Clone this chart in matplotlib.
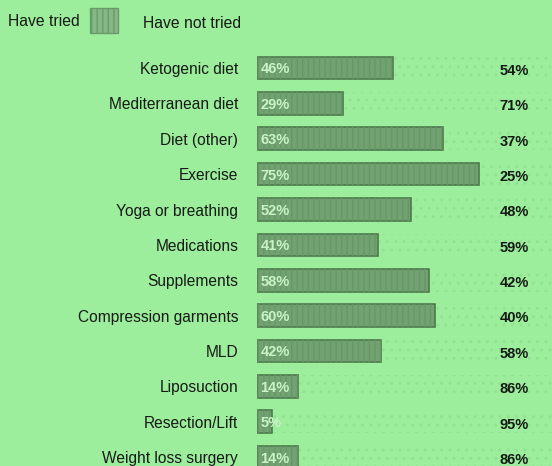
import matplotlib
matplotlib.use("Agg")
import matplotlib.pyplot as plt
from matplotlib.patches import Rectangle
import numpy as np

categories = ["Ketogenic diet", "Mediterranean diet", "Diet (other)", "Exercise",
              "Yoga or breathing", "Medications", "Supplements", "Compression garments",
              "MLD", "Liposuction", "Resection/Lift", "Weight loss surgery"]
tried = [46, 29, 63, 75, 52, 41, 58, 60, 42, 14, 5, 14]
not_tried = [54, 71, 37, 25, 48, 59, 42, 40, 58, 86, 95, 86]

bg = "#9cee9c"
bar_col = "#72a272"
edge_col = "#4d7a4d"
txt_col = "#161a16"

plt.rcParams["font.family"] = ["Liberation Sans", "DejaVu Sans"]

fig = plt.figure(figsize=(5.52, 4.66), dpi=100)
fig.patch.set_facecolor(bg)

ax = fig.add_axes([257 / 552, 0.0, 296 / 552, 1 - 50.3 / 466])
ax.set_facecolor(bg)
y = np.arange(len(categories))

# faint dotted "have not tried" part
ax.barh(y, not_tried, left=tried, height=0.64, color="none",
        edgecolor="#93e193", hatch="..", linewidth=0)
bars = ax.barh(y, tried, height=0.64, color=bar_col, edgecolor=edge_col, linewidth=1.2)
ax.barh(y, tried, height=0.64, color="none", edgecolor="#669866", hatch="|||", linewidth=0)

for i, (t, n) in enumerate(zip(tried, not_tried)):
    lab = ax.text(1.2, i + 0.04, f"{t}%", ha="left", va="center", fontsize=10.5,
                  fontweight="bold", color="#c8f4c8")
    lab.set_clip_path(bars[i])
    ax.text(82, i + 0.08, f"{n}%", ha="left", va="center", fontsize=10.5,
            fontweight="bold", color=txt_col)

ax.set_xlim(0, 100)
ax.set_ylim(11.25, -0.5)
ax.set_yticks(y)
ax.set_yticklabels(categories, fontsize=11.2, color=txt_col)
ax.tick_params(axis="y", length=0, pad=13.5)
ax.set_xticks([])
for s in ax.spines.values():
    s.set_visible(False)

# legend at the top
fig.text(8 / 552, 1 - 22 / 466, "Have tried", ha="left", va="center",
         fontsize=11.3, color=txt_col)
fig.patches.append(Rectangle((90 / 552, 1 - 33 / 466), 28 / 552, 25 / 466,
                             transform=fig.transFigure, facecolor="#86b886",
                             edgecolor="#6a9a6a", hatch="|||", linewidth=1))
fig.text(143 / 552, 1 - 24 / 466, "Have not tried", ha="left", va="center",
         fontsize=11.3, color=txt_col)

fig.savefig("out.png", dpi=100, facecolor=bg)
